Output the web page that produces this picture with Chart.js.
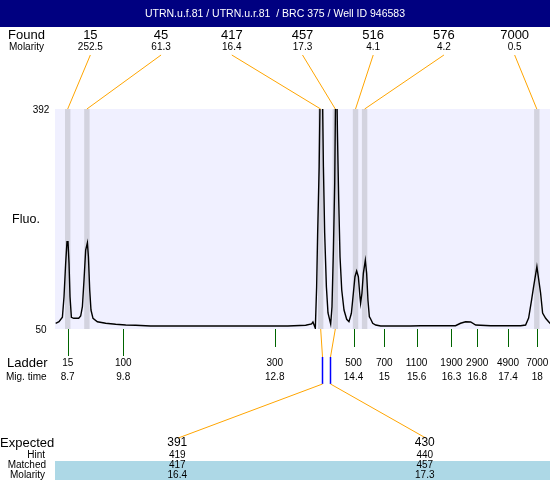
<!DOCTYPE html>
<html><head><meta charset="utf-8">
<script src="https://cdn.jsdelivr.net/npm/chart.js@4/dist/chart.umd.min.js"></script>
<style>html,body{margin:0;padding:0;background:#fff;}canvas{display:block;}</style>
</head><body>
<canvas id="c" width="550" height="480"></canvas>
<script>
// ---------------- data ----------------
const title = 'UTRN.u.f.81 / UTRN.u.r.81  / BRC 375 / Well ID 946583';
const foundSizes = ['15', '45', '417', '457', '516', '576', '7000'];
const foundMolarity = ['252.5', '61.3', '16.4', '17.3', '4.1', '4.2', '0.5'];
const foundMigTime = [8.70, 9.08, 13.71, 14.00, 14.40, 14.58, 17.99];
const ladderSizes = ['15', '100', '300', '500', '700', '1100', '1900', '2900', '4900', '7000'];
const ladderMigTime = [8.7, 9.8, 12.8, 14.36, 14.97, 15.61, 16.3, 16.81, 17.42, 18.0];
const expectedSizes = ['391', '430'];
const hintSizes = ['419', '440'];
const hintMigTime = [13.74, 13.885];
const matchedSizes = ['417', '457'];
const matchedMolarity = ['16.4', '17.3'];
const matchedMigTime = [13.71, 14.00];
const yTicks = [50, 392];
const migTime = [8.462, 8.528, 8.595, 8.627, 8.660, 8.686, 8.706, 8.726, 8.746, 8.773, 8.819, 8.918, 8.957, 8.991, 9.023, 9.056, 9.090, 9.110, 9.136, 9.161, 9.201, 9.288, 9.452, 9.650, 9.849, 10.047, 10.34, 11.33, 12.32, 13.06, 13.413, 13.531, 13.557, 13.604, 13.630, 13.650, 13.680, 13.700, 13.724, 13.745, 13.764, 13.789, 13.823, 13.855, 13.908, 13.934, 13.962, 13.988, 14.008, 14.030, 14.042, 14.067, 14.093, 14.127, 14.172, 14.225, 14.270, 14.318, 14.357, 14.389, 14.422, 14.456, 14.488, 14.501, 14.527, 14.555, 14.594, 14.620, 14.646, 14.674, 14.700, 14.740, 14.800, 14.899, 15.491, 15.69, 16.38, 16.48, 16.58, 16.68, 16.78, 17.075, 17.669, 17.768, 17.828, 17.887, 17.927, 17.992, 18.065, 18.105, 18.165, 18.224, 18.264];
const fluo = [58.9, 61.3, 68.2, 100.2, 152.6, 185.7, 185.7, 152.6, 100.2, 68.2, 66.6, 66.6, 70.2, 84.7, 126.2, 172.8, 184.1, 162.4, 110.6, 79.5, 66.6, 61.3, 58.9, 57.3, 56.2, 55.8, 54.7, 54.7, 54.7, 54.7, 55.8, 57.8, 60.9, 51.1, 115.8, 199.2, 302.3, 420, 470, 420, 302.3, 199.2, 115.8, 74.9, 57.8, 84.7, 172.8, 277, 440, 420, 354.7, 250.5, 162.4, 110.6, 79.5, 65.1, 61.3, 74.4, 105.5, 131.3, 140.2, 131.3, 100.2, 90, 105.5, 136.6, 156.8, 136.6, 95.1, 69.1, 65.5, 58.9, 56.2, 54.7, 54.7, 55.1, 55.1, 58.9, 61.3, 60.9, 56.2, 55.1, 55.1, 56.2, 67.1, 95.1, 115.8, 146.9, 106, 74.9, 66.6, 61.3, 57.8];

// ---------------- styling ----------------
const FONT = '"Liberation Sans", Arial, sans-serif';
const f = px => px + 'px ' + FONT;
const ORANGE = '#FFA500';

function text(ctx, s, x, y, size, align, color) {
  ctx.font = f(size);
  ctx.textAlign = align || 'center';
  ctx.textBaseline = 'middle';
  ctx.fillStyle = color || '#000';
  ctx.fillText(s, x, y);
}
function line(ctx, x1, y1, x2, y2, color, w) {
  ctx.beginPath();
  ctx.strokeStyle = color;
  ctx.lineWidth = w || 1;
  ctx.moveTo(x1, y1);
  ctx.lineTo(x2, y2);
  ctx.stroke();
}

const electroPlugin = {
  id: 'electro',
  beforeDatasetsDraw(chart) {
    const { ctx, chartArea: a, scales: { x } } = chart;
    ctx.save();
    ctx.fillStyle = '#F0F0FF';
    ctx.fillRect(a.left, a.top, a.right - a.left, a.bottom - a.top);
    ctx.fillStyle = '#D3D3DF';
    foundMigTime.forEach(t => {
      const px = x.getPixelForValue(t);
      ctx.fillRect(px - 2.7, a.top, 5.4, a.bottom - a.top);
    });
    ctx.restore();
  },
  afterDraw(chart) {
    const { ctx, chartArea: a, scales: { x, y } } = chart;
    const W = chart.width;
    ctx.save();
    // header
    ctx.fillStyle = '#000080';
    ctx.fillRect(0, 0, W, 27);
    text(ctx, title, W / 2, 14, 10.5, 'center', '#fff');

    // found rows
    text(ctx, 'Found', 8, 35, 13, 'left');
    text(ctx, 'Molarity', 9, 47, 10, 'left');
    const colW = (a.right - a.left) / foundSizes.length;
    foundSizes.forEach((s, i) => {
      const cx = a.left + colW * (i + 0.5);
      text(ctx, s, cx, 35, 13);
      text(ctx, foundMolarity[i], cx, 47, 10);
      line(ctx, cx, 55, x.getPixelForValue(foundMigTime[i]), a.top, ORANGE, 1);
    });

    // y labels
    yTicks.forEach(v => text(ctx, String(v), 41, y.getPixelForValue(v) + 1, 10));
    text(ctx, 'Fluo.', 26, (a.top + a.bottom) / 2 + 1, 12.5);

    // ladder
    text(ctx, 'Ladder', 7, 363, 13, 'left');
    text(ctx, 'Mig. time', 6, 377, 10, 'left');
    ladderSizes.forEach((s, i) => {
      const px = x.getPixelForValue(ladderMigTime[i]);
      const len = i < 2 ? 27 : 18;
      line(ctx, Math.round(px) + 0.5, a.bottom, Math.round(px) + 0.5, a.bottom + len, '#006400', 1);
      text(ctx, s, px, 363, 10);
      text(ctx, String(parseFloat(ladderMigTime[i].toFixed(1))), px, 377, 10);
    });

    // table
    const tW = (a.right - a.left) / expectedSizes.length;
    ctx.fillStyle = '#ADD8E6';
    ctx.fillRect(a.left, 461, a.right - a.left, 480 - 461);
    text(ctx, 'Expected', 0, 443, 13, 'left');
    text(ctx, 'Hint', 45, 455, 10, 'right');
    text(ctx, 'Matched', 46, 465.5, 10, 'right');
    text(ctx, 'Molarity', 45, 475, 10, 'right');
    expectedSizes.forEach((s, i) => {
      const cx = a.left + tW * (i + 0.5) - 1.5;
      const mx = x.getPixelForValue(matchedMigTime[i]);
      const hx = Math.round(x.getPixelForValue(hintMigTime[i])) + 0.5;
      line(ctx, mx, a.bottom, hx, 357, ORANGE, 1);
      line(ctx, hx, 357, hx, 384, '#0000FF', 1.5);
      line(ctx, hx, 384, cx + 1, 438, ORANGE, 1);
      text(ctx, s, cx, 443, 12);
      text(ctx, hintSizes[i], cx, 455, 10);
      text(ctx, matchedSizes[i], cx, 465.5, 10);
      text(ctx, matchedMolarity[i], cx, 475, 10);
    });
    ctx.restore();
  }
};

new Chart(document.getElementById('c'), {
  type: 'line',
  data: {
    datasets: [{
      data: migTime.map((t, i) => ({ x: t, y: fluo[i] })),
      borderColor: '#000',
      borderWidth: 1.4,
      pointRadius: 0,
      tension: 0,
      fill: false
    }]
  },
  options: {
    responsive: false,
    animation: false,
    layout: { padding: { left: 55, right: 0, top: 109, bottom: 151 } },
    plugins: { legend: { display: false }, tooltip: { enabled: false } },
    scales: {
      x: { type: 'linear', min: 8.4485, max: 18.2514, display: false },
      y: { type: 'linear', min: 50, max: 392, display: false }
    }
  },
  plugins: [electroPlugin]
});
</script>
</body></html>
